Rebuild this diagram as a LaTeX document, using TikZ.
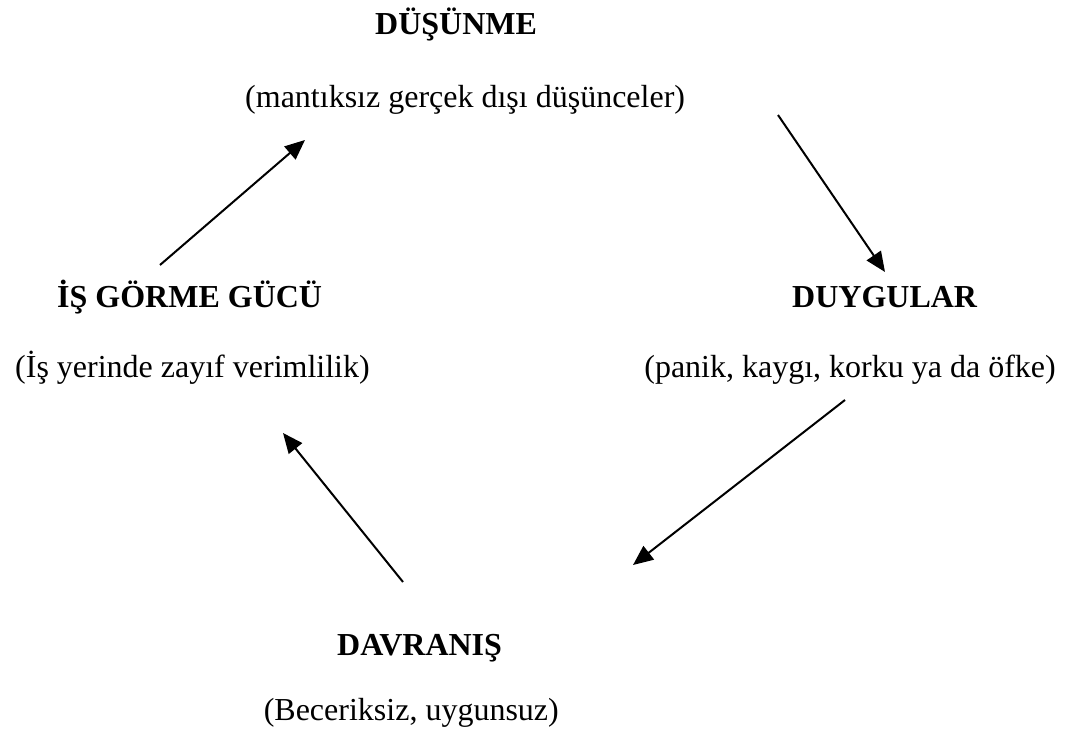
\documentclass[tikz,border=0pt]{standalone}
\usepackage{fontspec}
\setmainfont{Liberation Serif}
\usetikzlibrary{arrows.meta}
\begin{document}
\begin{tikzpicture}[x=1pt,y=-1pt,
  lbl/.style={font=\fontsize{32}{36}\selectfont\bfseries, inner sep=0pt},
  sub/.style={font=\fontsize{32}{36}\selectfont, inner sep=0pt},
  arr/.style={line width=2pt, -{Triangle[length=20pt,width=17pt]}}]
\useasboundingbox (0,0) rectangle (1072,733);
\node[lbl, anchor=base west] (t1) at (375,35) {DÜŞÜNME};
\node[sub, anchor=base west] (t2) at (245,108) {(mantıksız gerçek dışı düşünceler)};
\node[lbl, anchor=base west] (l1) at (57,307) {İŞ GÖRME GÜCÜ};
\node[sub, anchor=base west] (l2) at (15,377) {(İş yerinde zayıf verimlilik)};
\node[lbl, anchor=base west] (r1) at (792,307) {DUYGULAR};
\node[sub, anchor=base east] (r2) at (1056,377) {(panik, kaygı, korku ya da öfke)};
\node[lbl, anchor=base west] (b1) at (337,655) {DAVRANIŞ};
\node[sub, anchor=base east] (b2) at (559,720) {(Beceriksiz, uygunsuz)};
\coordinate (a1s) at (160,265); \coordinate (a1e) at (305,140);
\coordinate (a2s) at (778,115); \coordinate (a2e) at (885,272);
\coordinate (a3s) at (845,400); \coordinate (a3e) at (633,565);
\coordinate (a4s) at (403,582); \coordinate (a4e) at (283,433);
\draw[arr] (a1s) -- (a1e);
\draw[arr] (a2s) -- (a2e);
\draw[arr] (a3s) -- (a3e);
\draw[arr] (a4s) -- (a4e);
\end{tikzpicture}
\end{document}
